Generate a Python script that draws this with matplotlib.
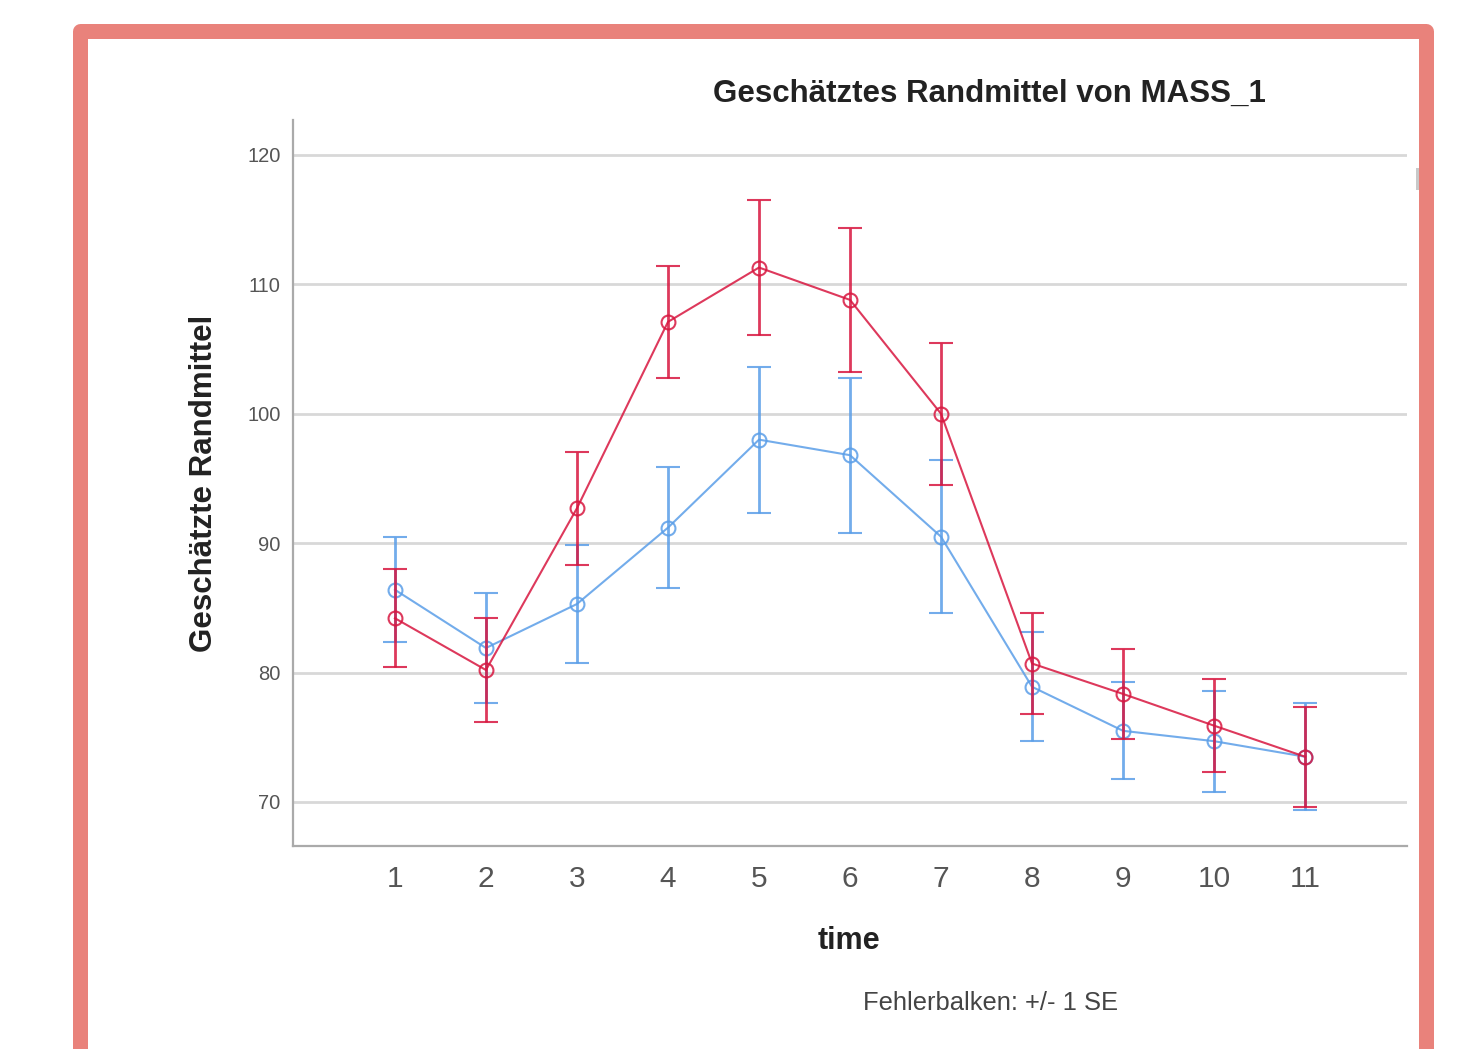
import matplotlib
matplotlib.use("Agg")
import matplotlib.pyplot as plt
from matplotlib.patches import Rectangle

plt.rcParams['font.family'] = ['Liberation Sans', 'DejaVu Sans']

time = [1, 2, 3, 4, 5, 6, 7, 8, 9, 10, 11]
time_labels = ['1', '2', '3', '4', '5', '6', '7', '8', '9', '10', '11']
blue_mean = [86.4, 81.9, 85.3, 91.2, 98.0, 96.8, 90.5, 78.9, 75.5, 74.7, 73.5]
blue_se = [4.05, 4.25, 4.55, 4.7, 5.65, 6.0, 5.9, 4.2, 3.75, 3.9, 4.15]
red_mean = [84.2, 80.2, 92.7, 107.1, 111.3, 108.8, 100.0, 80.7, 78.35, 75.9, 73.5]
red_se = [3.8, 4.0, 4.35, 4.3, 5.2, 5.55, 5.5, 3.9, 3.5, 3.6, 3.85]
y_ticks = [70, 80, 90, 100, 110, 120]

W, H = 1476, 1049
fig = plt.figure(figsize=(W / 100, H / 100), dpi=100)
fig.patch.set_facecolor('white')

ax = fig.add_axes([293 / W, 1 - 846 / H, (1407 - 293) / W, (846 - 120) / H])

blue = '#5A9EE8'
red = '#D8163F'

for mean, se, col, z in [(blue_mean, blue_se, blue, 3), (red_mean, red_se, red, 4)]:
    ax.errorbar(time, mean, yerr=se, color=col, lw=1.5, elinewidth=2.0,
                capsize=8.5, capthick=2.0, marker='o', markersize=10,
                markerfacecolor='none', markeredgecolor=col, markeredgewidth=1.5,
                alpha=0.85, zorder=z)

ax.set_xlim(-0.12, 12.12)
ax.set_ylim(66.6, 122.7)
ax.set_xticks(time)
ax.set_xticklabels(time_labels)
ax.set_yticks(y_ticks)
ax.tick_params(axis='x', length=0, labelsize=21.5, labelcolor='#555555', pad=14)
ax.tick_params(axis='y', length=0, labelsize=14.5, labelcolor='#555555', pad=9)
ax.yaxis.grid(True, color='#D8D8D8', lw=2)
ax.set_axisbelow(True)
for s in ['top', 'right']:
    ax.spines[s].set_visible(False)
for s in ['left', 'bottom']:
    ax.spines[s].set_color('#AAAAAA')
    ax.spines[s].set_linewidth(1.6)

fig.text(989 / W, 1 - 94 / H, 'Geschätztes Randmittel von MASS_1', ha='center', va='center',
         fontsize=22.5, fontweight='bold', color='#222222')
fig.text(204 / W, 1 - 483 / H, 'Geschätzte Randmittel', ha='center', va='center',
         rotation=90, fontsize=22.5, fontweight='bold', color='#222222')
fig.text(849 / W, 1 - 941 / H, 'time', ha='center', va='center',
         fontsize=22, fontweight='bold', color='#222222')
fig.text(990 / W, 1 - 1003 / H, 'Fehlerbalken: +/- 1 SE', ha='center', va='center',
         fontsize=18.4, color='#444444')

# frame border
border = Rectangle((79.5 / W, -0.05), (1425.5 - 79.5) / W, (1 - 31 / H) + 0.05,
                   transform=fig.transFigure, fill=False, edgecolor='#E9827B',
                   linewidth=15 * 0.72, joinstyle='round')
fig.add_artist(border)
fig.add_artist(Rectangle((1416 / W, 1 - 190 / H), 3 / W, 22 / H, transform=fig.transFigure,
                         facecolor='#C8C8C8', edgecolor='none'))

fig.savefig('out.png', dpi=100)
